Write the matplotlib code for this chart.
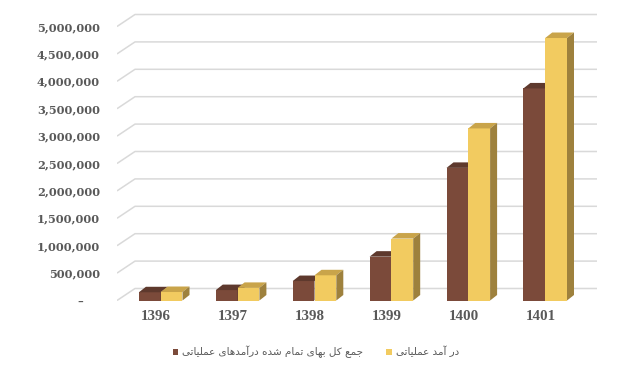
import matplotlib
matplotlib.use("Agg")
import matplotlib.pyplot as plt
from matplotlib.patches import Polygon

# ---- data ----
years = ["1396", "1397", "1398", "1399", "1400", "1401"]
cost_total = [150000, 190000, 355000, 800000, 2420000, 3870000]      # جمع کل بهای تمام شده درآمدهای عملیاتی
op_revenue = [155000, 230000, 460000, 1130000, 3140000, 4790000]     # در آمد عملیاتی
series_names = ["جمع کل بهای تمام شده درآمدهای عملیاتی", "در آمد عملیاتی"]
ytick_values = [0, 500000, 1000000, 1500000, 2000000, 2500000, 3000000,
                3500000, 4000000, 4500000, 5000000]
ytick_labels = ["–    ", "500,000", "1,000,000", "1,500,000", "2,000,000", "2,500,000",
                "3,000,000", "3,500,000", "4,000,000", "4,500,000", "5,000,000"]

# ---- simple Persian shaping (presentation forms + RTL order) ----
FORMS = {
    '\u062C': ('\uFE9D', '\uFE9E', '\uFE9F', '\uFEA0'),
    '\u0645': ('\uFEE1', '\uFEE2', '\uFEE3', '\uFEE4'),
    '\u0639': ('\uFEC9', '\uFECA', '\uFECB', '\uFECC'),
    '\u06A9': ('\uFB8E', '\uFB8F', '\uFB90', '\uFB91'),
    '\u0644': ('\uFEDD', '\uFEDE', '\uFEDF', '\uFEE0'),
    '\u0628': ('\uFE8F', '\uFE90', '\uFE91', '\uFE92'),
    '\u0647': ('\uFEE9', '\uFEEA', '\uFEEB', '\uFEEC'),
    '\u06CC': ('\uFBFC', '\uFBFD', '\uFBFE', '\uFBFF'),
    '\u062A': ('\uFE95', '\uFE96', '\uFE97', '\uFE98'),
    '\u0634': ('\uFEB5', '\uFEB6', '\uFEB7', '\uFEB8'),
    '\u0627': ('\uFE8D', '\uFE8E'),
    '\u0622': ('\uFE81', '\uFE82'),
    '\u062F': ('\uFEA9', '\uFEAA'),
    '\u0631': ('\uFEAD', '\uFEAE'),
}
RIGHT_ONLY = {'\u0627', '\u0622', '\u062F', '\u0631'}


def shape(text):
    out = []
    n = len(text)
    for i, ch in enumerate(text):
        if ch not in FORMS:
            out.append(ch)
            continue
        prev = text[i - 1] if i > 0 else None
        nxt = text[i + 1] if i + 1 < n else None
        jp = prev in FORMS and prev not in RIGHT_ONLY
        jn = ch not in RIGHT_ONLY and nxt in FORMS
        f = FORMS[ch]
        if jp and jn:
            out.append(f[3])
        elif jp:
            out.append(f[1])
        elif jn:
            out.append(f[2])
        else:
            out.append(f[0])
    return ''.join(out)[::-1]


# ---- styling ----
BROWN_FRONT, BROWN_TOP, BROWN_SIDE = "#7B4A3A", "#5E392D", "#5A362A"
YEL_FRONT, YEL_TOP, YEL_SIDE = "#F2CB60", "#C9A44A", "#9E813D"
GRID = "#D9D9D9"
TXT = "#595959"

W, H = 628, 367
fig = plt.figure(figsize=(W / 100, H / 100), dpi=100)

px_left, px_right = 117, 597
px_zero, px_top = 300.5, 5
cat0_px, cat_step = 160.7, 76.9
px_per_m = 54.8

ax = fig.add_axes([px_left / W, (H - px_zero) / H, (px_right - px_left) / W, (px_zero - px_top) / H])
xlo = (px_left - cat0_px) / cat_step
xhi = (px_right - cat0_px) / cat_step
ytop = (px_zero - px_top) / px_per_m * 1e6
ax.set_xlim(xlo, xhi)
ax.set_ylim(0, ytop)
for s in ax.spines.values():
    s.set_visible(False)

# 3D offsets in data units
wall_dx, wall_dy = 18 / cat_step, 12 / px_per_m * 1e6
bar_dx, bar_dy = 7 / cat_step, 5.5 / px_per_m * 1e6
bw = 21.8 / cat_step

# gridlines on back wall + left slant
for v in ytick_values:
    ax.plot([xlo, xlo + wall_dx, xhi], [v, v + wall_dy, v + wall_dy],
            color=GRID, lw=1.1, zorder=1, solid_capstyle="butt")

xs = list(range(len(years)))


def draw_3d(x0s, vals, front, top, side, label):
    bars = ax.bar(x0s, vals, width=bw, align="edge", color=front, zorder=3, label=label)
    for x0, v in zip(x0s, vals):
        ax.add_patch(Polygon([(x0, v), (x0 + bw, v), (x0 + bw + bar_dx, v + bar_dy), (x0 + bar_dx, v + bar_dy)],
                             closed=True, facecolor=top, edgecolor="none", zorder=3))
        ax.add_patch(Polygon([(x0 + bw, 0), (x0 + bw, v), (x0 + bw + bar_dx, v + bar_dy), (x0 + bw + bar_dx, bar_dy)],
                             closed=True, facecolor=side, edgecolor="none", zorder=3))
    return bars


b1 = draw_3d([x - bw for x in xs], cost_total, BROWN_FRONT, BROWN_TOP, BROWN_SIDE, shape(series_names[0]))
b2 = draw_3d([x for x in xs], op_revenue, YEL_FRONT, YEL_TOP, YEL_SIDE, shape(series_names[1]))

# axes ticks
ax.set_yticks(ytick_values)
ax.set_yticklabels(ytick_labels, fontfamily="DejaVu Serif", fontweight="bold", fontsize=8.2, color=TXT)
ax.set_xticks([x - 0.06 for x in xs])
ax.set_xticklabels(years, fontfamily="Liberation Serif", fontweight="bold", fontsize=10.8, color=TXT)
ax.tick_params(axis="y", length=0, pad=12.2)
ax.tick_params(axis="x", length=0, pad=6.5)

leg = fig.legend(handles=[b1, b2], labels=[shape(series_names[0]), shape(series_names[1])],
                 loc="center", bbox_to_anchor=(316 / W, (H - 352) / H), ncol=2, frameon=False,
                 prop={"family": "DejaVu Sans", "size": 7.5}, handlelength=0.55, handleheight=0.55,
                 handletextpad=0.4, columnspacing=2.2, borderaxespad=0)
for t in leg.get_texts():
    t.set_color(TXT)

fig.savefig("out.png", dpi=100)
